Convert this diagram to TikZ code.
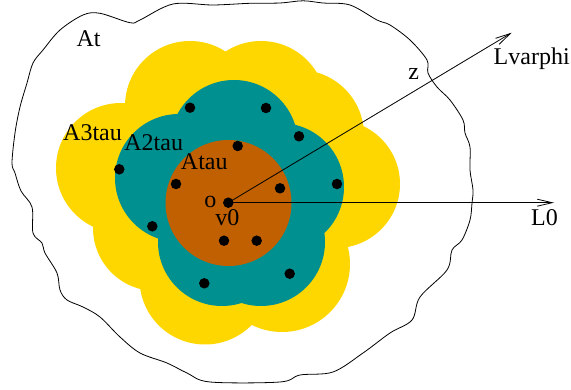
\documentclass[tikz,border=0pt]{standalone}
\usepackage{fontspec}
\setmainfont{Liberation Serif}
\usetikzlibrary{arrows.meta}
\definecolor{gold}{HTML}{FFD700}
\definecolor{tealfour}{HTML}{009090}
\definecolor{browntwo}{HTML}{C06000}
\begin{document}
\begin{tikzpicture}[x=1pt,y=-1pt,
  lab/.style={font=\fontsize{24}{28}\selectfont, inner sep=0pt, anchor=base},
  dot/.style={circle, fill=black, inner sep=0pt, minimum size=10.5pt},
  ray/.style={line width=0.8pt, -{Straight Barb[length=15pt,width=7pt]}},
  outline/.style={line width=0.8pt, black},
]
\useasboundingbox (0,0) rectangle (571,390);
% A3tau (yellow)
\fill[gold] (121,168) circle[radius=65pt];
\fill[gold] (190,106) circle[radius=65pt];
\fill[gold] (261,106) circle[radius=65pt];
\fill[gold] (299,135) circle[radius=65pt];
\fill[gold] (336,184) circle[radius=64pt];
\fill[gold] (282,264) circle[radius=68pt];
\fill[gold] (205,279) circle[radius=65.5pt];
\fill[gold] (156,228) circle[radius=63pt];
% A2tau (teal)
\fill[tealfour] (179,178) circle[radius=64pt];
\fill[tealfour] (234,144) circle[radius=64pt];
\fill[tealfour] (280,187) circle[radius=64pt];
\fill[tealfour] (261,242) circle[radius=64pt];
\fill[tealfour] (222,242) circle[radius=64pt];
% Atau (brown)
\fill[browntwo] (228.5,203) circle[radius=63pt];
% outer curve At
\draw[outline] plot[smooth cycle, tension=0.55] coordinates {
 (303,0.8) (323,3) (350,5) (377,20) (390,25) (410,40) (427,60) (428,73)
 (437,87) (450,100) (463,120) (465,133) (470,147) (470,170) (473,190)
 (472,203) (470,220) (462,240) (452,250) (447,270) (420,297) (412,320)
 (390,333) (363,353) (333,372) (300,375) (280,382) (210,382) (187,373)
 (167,363) (140,353) (120,337) (100,317) (83,307) (67,300) (60,290)
 (57,273) (45,253) (42,243) (33,233) (32,207) (21,191) (15,173) (12,163)
 (15,133) (20,107) (27,83) (33,63) (43,50) (60,30) (83,15) (100,13.3)
 (130,22.7) (140,20) (173,4) (213,5) (250,3.3) (280,3)};
% dots
\node[dot] (o) at (228.3,202.7) {};
\node[dot] (b1) at (237.7,146) {};
\node[dot] (b2) at (176,184) {};
\node[dot] (b3) at (280,188.3) {};
\node[dot] (b4) at (224,240.7) {};
\node[dot] (b5) at (256.7,240.7) {};
\node[dot] (t1) at (190,107.7) {};
\node[dot] (t2) at (266,108) {};
\node[dot] (t3) at (299,136.3) {};
\node[dot] (t4) at (337,184) {};
\node[dot] (t5) at (289.7,273.7) {};
\node[dot] (t6) at (204.3,283.3) {};
\node[dot] (t7) at (152.3,226.3) {};
\node[dot] (t8) at (119.3,169.3) {};
% rays
\coordinate (lphi) at (511.7,32.7);
\coordinate (lzero) at (554,202.7);
\draw[ray] (o.center) -- (lphi);
\draw[ray] (o.center) -- (lzero);
% labels
\node[lab] (at) at (88.5,47) {At};
\node[lab] (a3) at (92.5,141) {A3tau};
\node[lab] (a2) at (153.7,151) {A2tau};
\node[lab] (a1) at (204.3,170) {Atau};
\node[lab] (ol) at (210.3,207.3) {o};
\node[lab] (v0) at (227.3,225.7) {v0};
\node[lab] (z) at (413.8,80) {z};
\node[lab] (lphil) at (531.7,65) {Lvarphi};
\node[lab] (l0l) at (544.5,226) {L0};
\end{tikzpicture}
\end{document}
